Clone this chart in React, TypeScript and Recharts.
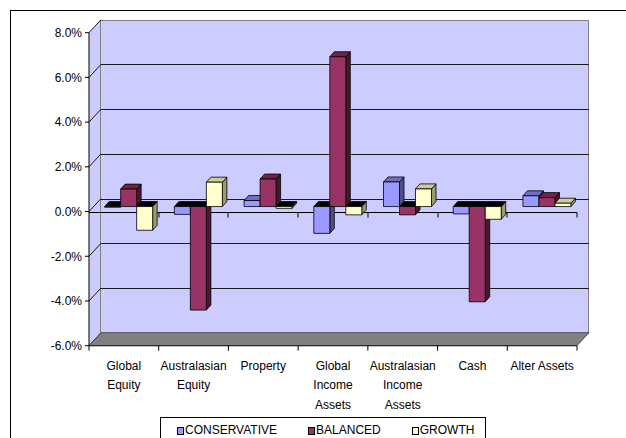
import React from "react";
import { BarChart, Bar, XAxis, YAxis } from "recharts";

// asset classes and their wrapped tick labels
const CATEGORIES = [
  "Global Equity",
  "Australasian Equity",
  "Property",
  "Global Income Assets",
  "Australasian Income Assets",
  "Cash",
  "Alter Assets",
];
const TICK_LABELS = [
  ["Global", "Equity"],
  ["Australasian", "Equity"],
  ["Property"],
  ["Global", "Income", "Assets"],
  ["Australasian", "Income", "Assets"],
  ["Cash"],
  ["Alter Assets"],
];

// relative returns, in %
const CONSERVATIVE = [-0.03, -0.35, 0.27, -1.2, 1.1, -0.33, 0.48];
const BALANCED = [0.78, -4.63, 1.23, 6.7, -0.37, -4.26, 0.4];
const GROWTH = [-1.06, 1.09, -0.08, -0.37, 0.79, -0.57, 0.15];

const Y_TICKS = [-6, -4, -2, 0, 2, 4, 6, 8];
const Y_MIN = -6;
const Y_MAX = 8;

const SERIES = [
  { key: "conservative", name: "CONSERVATIVE", front: "#9999FF", top: "#6F6FC4", side: "#4F4F8A" },
  { key: "balanced", name: "BALANCED", front: "#993366", top: "#6E2449", side: "#4A1730" },
  { key: "growth", name: "GROWTH", front: "#FFFFCC", top: "#CCCC9C", side: "#9A9A74" },
];

const data = CATEGORIES.map((c, i) => ({
  name: c,
  conservative: CONSERVATIVE[i],
  balanced: BALANCED[i],
  growth: GROWTH[i],
}));

// layout
const W = 626;
const H = 438;
const PL = 89;
const PR = 577;
const PT = 32.7;
const PB = 345.7;
const DX = 12; // depth of back wall
const DY = -13;
const BDX = 4.5; // bar front offset and bar depth
const BDY = -5;

const FONT = "'Liberation Sans', Arial, sans-serif";

const yOf = (v: number) => PT + ((Y_MAX - v) / (Y_MAX - Y_MIN)) * (PB - PT);
const crisp = (v: number) => Math.round(v) + 0.5;

function Box3D(props: any) {
  const { x, y, width, height, s } = props;
  if (x == null || y == null) return null;
  const neg = height < 0;
  const top = Math.min(y, y + height) + BDY;
  const h = Math.abs(height);
  const l = x + BDX;
  const r = l + width;
  const b = top + h;
  const st = { stroke: "#000", strokeWidth: 0.8, strokeLinejoin: "round" as const };
  return (
    <g>
      <polygon
        points={`${r},${top} ${r + BDX},${top + BDY} ${r + BDX},${b + BDY} ${r},${b}`}
        fill={s.side}
        {...st}
      />
      <polygon
        points={`${l},${top} ${l + BDX},${top + BDY} ${r + BDX},${top + BDY} ${r},${top}`}
        fill={neg ? "#000" : s.top}
        {...st}
      />
      <rect x={l} y={top} width={width} height={h} fill={s.front} {...st} />
    </g>
  );
}

function CategoryTick(props: any) {
  const { x, y, payload, index } = props;
  const half = payload.offset ?? (PR - PL) / CATEGORIES.length / 2;
  const lines = TICK_LABELS[index] ?? [payload.value];
  return (
    <g>
      <line x1={x - half} x2={x - half} y1={y} y2={y + 5} stroke="#000" />
      {index === CATEGORIES.length - 1 && (
        <line x1={x + half} x2={x + half} y1={y} y2={y + 5} stroke="#000" />
      )}
      <text x={x} y={y + 24} textAnchor="middle" fontSize={12} fontFamily={FONT} fill="#000">
        {lines.map((ln: string, i: number) => (
          <tspan key={i} x={x} dy={i === 0 ? 0 : 19.7}>
            {ln}
          </tspan>
        ))}
      </text>
    </g>
  );
}

function Walls() {
  const bw = PR - PL;
  const gridTicks = Y_TICKS.filter((t) => t !== Y_MIN && t !== Y_MAX);
  const z = crisp(yOf(0));
  const band = bw / CATEGORIES.length;
  return (
    <svg width={W} height={H} style={{ position: "absolute", left: 0, top: 0 }}>
      {/* side wall */}
      <polygon
        points={`${PL},${PT} ${PL + DX},${PT + DY} ${PL + DX},${PB + DY} ${PL},${PB}`}
        fill="#CCCCFF"
      />
      {/* back wall */}
      <rect
        x={crisp(PL + DX) - 1}
        y={crisp(PT + DY)}
        width={Math.round(bw)}
        height={Math.round(PB - PT)}
        fill="#CCCCFF"
        stroke="#808080"
      />
      {gridTicks.map((t) => (
        <line
          key={t}
          x1={PL + DX}
          x2={PR + DX}
          y1={crisp(yOf(t) + DY)}
          y2={crisp(yOf(t) + DY)}
          stroke="#1a1a1a"
        />
      ))}
      {Y_TICKS.map((t) => (
        <line
          key={"d" + t}
          x1={PL}
          y1={yOf(t)}
          x2={PL + DX}
          y2={yOf(t) + DY}
          stroke="#1a1a1a"
        />
      ))}
      {/* floor */}
      <polygon
        points={`${PL},${PB} ${PR},${PB} ${PR + DX},${PB + DY} ${PL + DX},${PB + DY}`}
        fill="#808080"
        stroke="#3a3a3a"
        strokeWidth={0.8}
      />
      {/* category axis at zero */}
      <line x1={PL} x2={PR} y1={z} y2={z} stroke="#000" />
      {CATEGORIES.map((c, i) => (
        <line
          key={c}
          x1={crisp(PL + band * (i + 1)) - 0.5}
          x2={crisp(PL + band * (i + 1)) - 0.5}
          y1={z}
          y2={z + 5}
          stroke="#000"
        />
      ))}
    </svg>
  );
}

function LegendBox() {
  return (
    <div
      style={{
        position: "absolute",
        left: 160,
        top: 417,
        width: 326,
        height: 40,
        border: "1px solid #000",
        background: "#fff",
        boxSizing: "border-box",
        display: "flex",
        alignItems: "flex-start",
        paddingLeft: 16,
        paddingTop: 4,
        gap: 31,
        fontFamily: FONT,
        fontSize: 12,
        color: "#000",
      }}
    >
      {SERIES.map((s) => (
        <div key={s.key} style={{ display: "flex", alignItems: "center", height: 16 }}>
          <span
            style={{
              display: "inline-block",
              width: 5,
              height: 6,
              background: s.front,
              border: "1px solid #000",
              marginRight: 1,
              marginTop: 2,
            }}
          />
          <span>{s.name}</span>
        </div>
      ))}
    </div>
  );
}

export default function App() {
  return (
    <div style={{ position: "relative", width: W, height: H, overflow: "hidden", background: "#fff" }}>
      <style>{"body{margin:0;overflow:hidden}"}</style>
      <div
        style={{
          position: "absolute",
          left: 10,
          top: 10,
          width: 700,
          height: 500,
          border: "1px solid #000",
        }}
      />
      <Walls />
      <div style={{ position: "absolute", left: 0, top: 0 }}>
        <BarChart
          width={W}
          height={H}
          data={data}
          margin={{ top: PT, right: W - PR, left: 0, bottom: H - PB - 60 }}
          barCategoryGap="16%"
          barGap={0}
        >
          <XAxis
            dataKey="name"
            height={60}
            interval={0}
            tickLine={false}
            tickSize={0}
            tickMargin={0}
            axisLine={{ stroke: "#222" }}
            tick={<CategoryTick />}
          />
          <YAxis
            width={PL}
            domain={[Y_MIN, Y_MAX]}
            ticks={Y_TICKS}
            interval={0}
            allowDataOverflow
            tickSize={4}
            tickMargin={3}
            axisLine={{ stroke: "#000" }}
            tickLine={{ stroke: "#000" }}
            tick={{ fill: "#000", fontSize: 12, fontFamily: FONT }}
            tickFormatter={(v) => `${Number(v).toFixed(1)}%`}
          />
          {SERIES.map((s) => (
            <Bar
              key={s.key}
              dataKey={s.key}
              name={s.name}
              fill={s.front}
              isAnimationActive={false}
              shape={(p: any) => <Box3D {...p} s={s} />}
            />
          ))}
        </BarChart>
      </div>
      <LegendBox />
    </div>
  );
}
